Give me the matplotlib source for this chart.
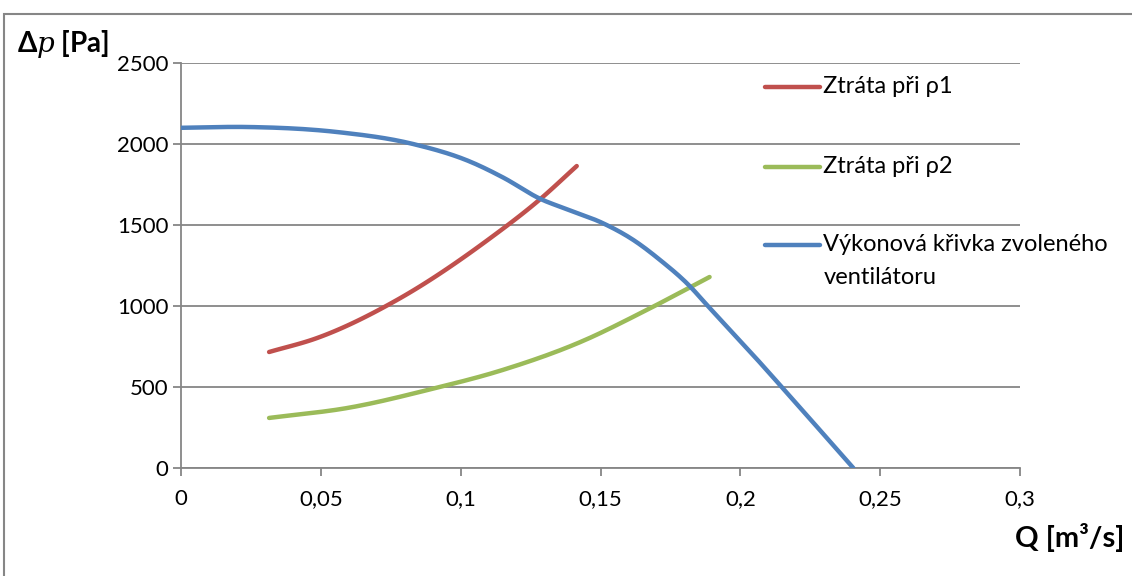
import numpy as np
import matplotlib
matplotlib.use("Agg")
import matplotlib.pyplot as plt
from matplotlib.lines import Line2D
from matplotlib.patches import Rectangle

# ------------------------------------------------------------
# Data
# ------------------------------------------------------------
q_rho1 = [0.0315, 0.0486, 0.0772, 0.1105, 0.1284, 0.1415]
dp_rho1 = [716, 802, 1037, 1418, 1659, 1864]

q_rho2 = [0.0315, 0.06, 0.089, 0.115, 0.1438, 0.165, 0.189]
dp_rho2 = [309, 372, 485, 605, 785, 962, 1179]

q_fan = [0, 0.0236, 0.0558, 0.083, 0.1034, 0.1153, 0.1284, 0.1392, 0.151,
         0.1618, 0.1713, 0.1815, 0.1886, 0.1975, 0.2059, 0.2148, 0.2404]
dp_fan = [2100, 2105, 2074, 2000, 1891, 1792, 1662, 1590, 1510,
          1407, 1284, 1130, 996, 830, 672, 500, 0]

labels = ["Ztráta při ρ1", "Ztráta při ρ2",
          "Výkonová křivka zvoleného\nventilátoru"]
colors = ["#C0504D", "#9BBB59", "#4F81BD"]

x_ticks = [0, 0.05, 0.1, 0.15, 0.2, 0.25, 0.3]
x_ticklabels = ["0", "0,05", "0,1", "0,15", "0,2", "0,25", "0,3"]
y_ticks = [0, 500, 1000, 1500, 2000, 2500]


def smooth(x, y, n=25):
    # cubic Hermite through the read points (smoothed line as in Excel)
    x = np.asarray(x, float)
    y = np.asarray(y, float)
    h = np.diff(x)
    d = np.diff(y) / h
    m = np.empty_like(y)
    m[0], m[-1] = d[0], d[-1]
    m[1:-1] = (d[:-1] * h[1:] + d[1:] * h[:-1]) / (h[:-1] + h[1:])
    t = np.linspace(0, 1, n)
    xs, ys = [], []
    for i in range(len(h)):
        h00 = 2 * t ** 3 - 3 * t ** 2 + 1
        h10 = t ** 3 - 2 * t ** 2 + t
        h01 = -2 * t ** 3 + 3 * t ** 2
        h11 = t ** 3 - t ** 2
        xs.append(x[i] + t * h[i])
        ys.append(h00 * y[i] + h10 * h[i] * m[i] + h01 * y[i + 1] + h11 * h[i] * m[i + 1])
    return np.concatenate(xs), np.concatenate(ys)


plt.rcParams["font.family"] = ["Lato", "DejaVu Sans"]
plt.rcParams["mathtext.fontset"] = "custom"
plt.rcParams["mathtext.bf"] = "Lato:bold"
plt.rcParams["mathtext.it"] = "DejaVu Serif:italic"
plt.rcParams["mathtext.rm"] = "Lato"

fig = plt.figure(figsize=(11.32, 5.76), dpi=100)
ax = fig.add_axes([181 / 1132, 1 - 468 / 576, 839 / 1132, 405 / 576])

grey = "#868686"
for qs, dps, col in zip([q_rho1, q_rho2, q_fan], [dp_rho1, dp_rho2, dp_fan], colors):
    sx, sy = smooth(qs, dps)
    ax.plot(sx, sy, color=col, lw=3.2, solid_capstyle="round", zorder=3)

ax.set_xlim(0, 0.3)
ax.set_ylim(0, 2500)
ax.set_xticks(x_ticks)
ax.set_xticklabels(x_ticklabels)
ax.set_yticks(y_ticks)
ax.grid(axis="y", color=grey, lw=1.3)
ax.set_axisbelow(True)
for s in ["top", "right"]:
    ax.spines[s].set_visible(False)
for s in ["left", "bottom"]:
    ax.spines[s].set_color(grey)
    ax.spines[s].set_linewidth(1.3)
ax.tick_params(axis="x", colors=grey, length=6, width=1.3, pad=9, labelsize=16,
               labelcolor="black")
ax.tick_params(axis="y", colors=grey, length=6, width=1.3, pad=3, labelsize=16,
               labelcolor="black")

# legend drawn by hand so the handle sits on the first text line
leg_y = [0.9407, 0.743, 0.5506]
for yy, lab, col in zip(leg_y, labels, colors):
    ax.add_line(Line2D([0.696, 0.7616], [yy, yy], transform=ax.transAxes,
                       color=col, lw=3.2, solid_capstyle="round", clip_on=False))
    ax.text(0.7655, yy + 0.027, lab, transform=ax.transAxes, fontsize=17,
            ha="left", va="top", linespacing=1.72)

fig.text(17 / 1132, 1 - 52 / 576, r"$\mathbf{\Delta}\mathit{p}$ [Pa]",
         fontsize=20, fontweight="bold", ha="left", va="baseline")
fig.text(1124 / 1132, 1 - 547 / 576, "Q [m³/s]", fontsize=21,
         fontweight="bold", ha="right", va="baseline")

# outer chart frame
fig.add_artist(Rectangle((4 / 1132, -0.1), 1.2, (576 - 14) / 576 + 0.1,
                         transform=fig.transFigure, fill=False,
                         edgecolor=grey, lw=1.5))

fig.savefig("out.png", dpi=100)
